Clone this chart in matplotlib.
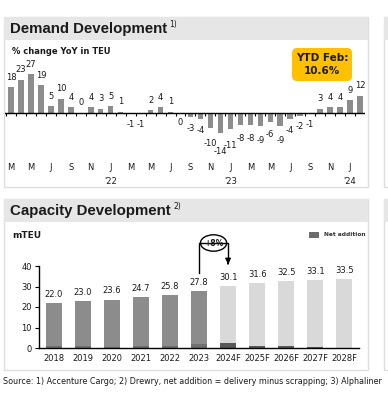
import matplotlib
matplotlib.use('Agg')
from matplotlib import pyplot as plt
from matplotlib.patches import Rectangle, FancyBboxPatch, Ellipse

W, H = 388, 399

# demand: % change YoY in TEU, Mar 2021 .. Feb 2024
demand = [18, 23, 27, 19, 5, 10, 4, 0.3, 4, 3, 5, 1,
          -1, -1, 2, 4, 1, -0.3, -3, -4, -10, -14, -11, -8,
          -8, -9, -6, -9, -4, -2, -1, 3, 4, 4, 9, 12]
month_labels = ['M', 'M', 'J', 'S', 'N', 'J', 'M', 'M', 'J', 'S', 'N', 'J',
                'M', 'M', 'J', 'S', 'N', 'J']
year_marks = {5: "'22", 11: "'23", 17: "'24"}

# capacity, mTEU
years = ['2018', '2019', '2020', '2021', '2022', '2023',
         '2024F', '2025F', '2026F', '2027F', '2028F']
capacity = [22.0, 23.0, 23.6, 24.7, 25.8, 27.8, 30.1, 31.6, 32.5, 33.1, 33.5]
net_addition = [1.2, 1.0, 0.6, 1.1, 1.1, 2.0, 2.3, 1.2, 0.8, 0.3, 0.2]
n_hist = 6

txt = '#1a1a1a'
fig = plt.figure(figsize=(W / 100, H / 100), dpi=100)
plt.rcParams['font.family'] = 'DejaVu Sans'

# background / decoration layer in pixel coords
bg = fig.add_axes([0, 0, 1, 1])
bg.set_xlim(0, W)
bg.set_ylim(H, 0)
bg.axis('off')

for y0, y1 in [(17, 187), (199, 370)]:
    bg.add_patch(Rectangle((4, y0), 364, y1 - y0, facecolor='white', edgecolor='#dedede', lw=1))
    bg.add_patch(Rectangle((4, y0), 364, 23, facecolor='#e6e6e6', edgecolor='none'))
    bg.add_patch(Rectangle((384, y0), 10, y1 - y0, facecolor='white', edgecolor='#dedede', lw=1))
    bg.add_patch(Rectangle((384, y0), 10, 23, facecolor='#e6e6e6', edgecolor='none'))

bg.text(10, 29, 'Demand Development', fontsize=10.8, fontweight='bold', family='Liberation Sans',
        color=txt, va='center')
bg.text(169.5, 25, '1)', fontsize=5.5, color=txt, va='center')
bg.text(10, 211, 'Capacity Development', fontsize=10.8, fontweight='bold', family='Liberation Sans',
        color=txt, va='center')
bg.text(173, 207, '2)', fontsize=5.5, color=txt, va='center')

bg.text(12, 52, '% change YoY in TEU', fontsize=6, fontweight='bold', color=txt, va='center')
bg.text(12, 236, 'mTEU', fontsize=6.5, fontweight='bold', color=txt, va='center')

bg.add_patch(FancyBboxPatch((292, 48), 60, 33, boxstyle='round,pad=0,rounding_size=5',
                            facecolor='#ffc000', edgecolor='none'))
bg.text(322, 64.5, 'YTD Feb:\n10.6%', fontsize=7.5, fontweight='bold', color=txt,
        ha='center', va='center', linespacing=1.4)

bg.text(3, 381, 'Source: 1) Accenture Cargo; 2) Drewry, net addition = delivery minus scrapping; 3) Alphaliner',
        fontsize=5.75, color=txt, va='center')

# ---- demand chart
ax = fig.add_axes([5 / W, 1 - 185 / H, 360 / W, 140 / H])
ax.patch.set_alpha(0)
x = list(range(len(demand)))
ax.bar(x, demand, width=0.55, color='#8c8c8c')
ax.set_xlim(-0.6, 35.5)
ax.set_ylim(-(185 - 113) / 1.45, (113 - 45) / 1.45)
ax.axhline(0, color='black', lw=1)
ax.vlines([i + 0.5 for i in range(-1, 36)], -1.8, 0, color='black', lw=0.8)
for i, v in enumerate(demand):
    lab = str(int(round(v))).replace('-0', '0')
    if v >= 0:
        ax.annotate(lab, (i, v), xytext=(0, 7), textcoords='offset points',
                    ha='center', va='center', fontsize=6, color=txt)
    else:
        # staggered below the bars, as in the source slide
        ax.annotate(lab, (i, 1.45 * v), xytext=(0, -6.5), textcoords='offset points',
                    ha='center', va='center', fontsize=6, color=txt)
for j, m in enumerate(month_labels):
    ax.text(2 * j, -(168 - 113) / 1.45, m, ha='center', va='center', fontsize=6, color=txt)
for j, yl in year_marks.items():
    ax.text(2 * j, -(181 - 113) / 1.45, yl, ha='center', va='center', fontsize=6, color=txt)
ax.axis('off')

# ---- capacity chart
ax2 = fig.add_axes([39 / W, 1 - 348 / H, 320 / W, 118 / H])
ax2.patch.set_alpha(0)
xs = list(range(len(years)))
tot_col = ['#8c8c8c'] * n_hist + ['#d9d9d9'] * (len(years) - n_hist)
net_col = ['#707070'] * n_hist + ['#595959'] * (len(years) - n_hist)
ax2.bar(xs, capacity, width=0.55, color=tot_col)
ax2.bar(xs, net_addition, width=0.55, color=net_col)
ax2.set_xlim(-0.5, 10.5)
ax2.set_ylim(0, 118 / 2.05)
for i, v in enumerate(capacity):
    ax2.annotate(f'{v:.1f}', (i, v), xytext=(0, 3), textcoords='offset points',
                 ha='center', va='bottom', fontsize=6, color=txt)
for s in ['top', 'right']:
    ax2.spines[s].set_visible(False)
ax2.spines['left'].set_bounds(0, 40)
ax2.spines['left'].set_linewidth(1)
ax2.spines['bottom'].set_linewidth(1)
ax2.set_yticks([0, 10, 20, 30, 40])
ax2.set_xticks(xs)
ax2.set_xticklabels(years)
ax2.tick_params(axis='x', length=0, pad=4, labelsize=6, labelcolor=txt)
ax2.tick_params(axis='y', length=3, width=0.8, pad=2, labelsize=6, labelcolor=txt)

# +8% bracket between 2023 and 2024F
ytop = (348 - 243) / 2.05
ax2.plot([5, 5, 6, 6], [capacity[5] + 8.8, ytop, ytop, capacity[6] + 12], color='black', lw=1)
ax2.annotate('', xy=(6, capacity[6] + 9.4), xytext=(6, capacity[6] + 12.5),
             arrowprops=dict(arrowstyle='-|>', color='black', lw=1, mutation_scale=8))
ax2.add_patch(Ellipse((5.5, ytop), 0.9, 8, facecolor='white', edgecolor='black', lw=1, clip_on=False))
ax2.text(5.5, ytop, '+8%', ha='center', va='center', fontsize=5.5, fontweight='bold', color=txt)

# legend
bg.add_patch(Rectangle((309, 232), 10, 6, facecolor='#6b6b6b', edgecolor='none'))
bg.text(324, 235, 'Net addition', fontsize=4.2, color='#333333', va='center', fontweight='bold')

fig.savefig('out.png', dpi=100)
